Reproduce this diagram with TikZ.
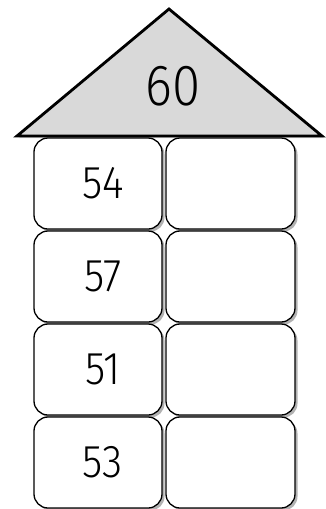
\documentclass[tikz,border=0pt]{standalone}
\usepackage{fontspec}
\setmainfont{Fira Sans Light}
\usetikzlibrary{shadows}
\begin{document}
\begin{tikzpicture}[x=1pt,y=-1pt,
  cell/.style={draw=black, line width=1.3pt, fill=white, rounded corners=14pt,
    drop shadow={shadow xshift=2.5pt, shadow yshift=-2.5pt, opacity=0.5, fill=black!60}},
  roof/.style={draw=black, line width=2.8pt, fill=black!15, line join=miter,
    drop shadow={shadow xshift=2pt, shadow yshift=-2pt, opacity=0.35}},
  num/.style={font=\fontsize{46}{46}\selectfont, anchor=center, xscale=0.9}]
\useasboundingbox (0,0) rectangle (326,509);
% roof
\coordinate (apex) at (169,9);
\coordinate (bl) at (17,136);
\coordinate (br) at (322,136);
\draw[roof] (apex) -- (br) -- (bl) -- cycle;
\node[font=\fontsize{58}{58}\selectfont, xscale=0.88] (top) at (173,86) {60};
% cells
\foreach \i/\y/\v in {1/138/54, 2/231/57, 3/324/51, 4/417/53} {
  \draw[cell] (34,\y) rectangle (162,\y+91);
  \draw[cell] (166,\y) rectangle (295,\y+91);
  \node[num] (l\i) at (103,\y+45) {\v};
}
\end{tikzpicture}
\end{document}
